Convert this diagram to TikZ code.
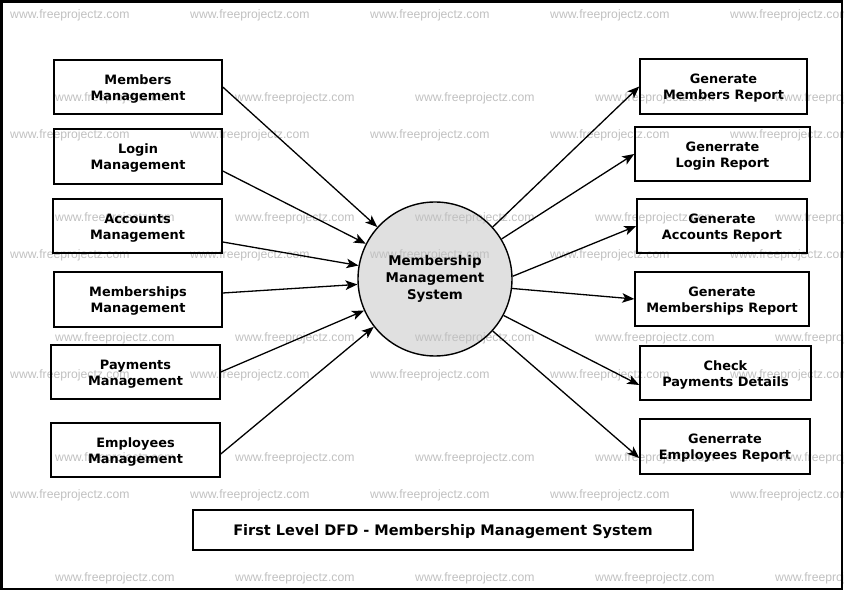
\documentclass[tikz,border=0pt]{standalone}
\usepackage{fontspec}
\setmainfont{DejaVu Sans}
\newfontfamily\wmfont{Liberation Sans}
\usetikzlibrary{arrows.meta}
\definecolor{wmgray}{RGB}{192,192,192}
\definecolor{sysgray}{RGB}{224,224,224}
\pgfdeclarelayer{bg}
\pgfdeclarelayer{wm}
\pgfsetlayers{bg,wm,main}
\newcommand\bxtext[1]{\raisebox{-2pt}[\height][\depth]{\begin{tabular}{@{}c@{}}#1\end{tabular}}}
\begin{document}
\begin{tikzpicture}[x=1pt,y=-1pt,
  box/.style={draw, line width=1.5pt, inner sep=0pt,
    font=\bfseries\fontsize{12.9}{16}\selectfont},
  sysnode/.style={draw, circle, line width=1.4pt, align=center, inner sep=0pt,
    minimum size=154pt, font=\bfseries\fontsize{13.4}{17}\selectfont},
  flow/.style={line width=1.3pt, -{Stealth[length=12pt,width=9.5pt,inset=3pt]}},
  wmtext/.style={anchor=west, inner sep=0pt, text=wmgray,
    font=\wmfont\fontsize{12.2}{12.2}\selectfont}]
\useasboundingbox (0,0) rectangle (846,593);

% process
\node[sysnode] (sys) at (435,279) {Membership\\Management\\System};
\begin{pgfonlayer}{bg}
  \fill[sysgray] (sys.center) circle[radius=77pt];
\end{pgfonlayer}

% watermarks
\begin{pgfonlayer}{wm}
\begin{scope}
  \clip (0,0) rectangle (843,590);
  \foreach \y [count=\j] in {15,135,255,375,495}{
    \foreach \x [count=\i] in {10,190,370,550,730}{
      \node[wmtext] (wa-\j-\i) at (\x,\y) {www.freeprojectz.com};
    }
  }
  \foreach \y [count=\j] in {98,218,338,458,578}{
    \foreach \x [count=\i] in {55,235,415,595,775}{
      \node[wmtext] (wb-\j-\i) at (\x,\y) {www.freeprojectz.com};
    }
  }
\end{scope}
\end{pgfonlayer}

% frame
\draw[line width=2.5pt] (1.3,1.3) rectangle (842,589);

% left entities
\node[box, minimum width=168pt, minimum height=54pt] (m1) at (138,87) {\bxtext{Members\\Management}};
\node[box, minimum width=168pt, minimum height=55pt] (m2) at (138,156.5) {\bxtext{Login\\Management}};
\node[box, minimum width=169pt, minimum height=54pt] (m3) at (137.5,226) {\bxtext{Accounts\\Management}};
\node[box, minimum width=168pt, minimum height=55pt] (m4) at (138,299.5) {\bxtext{Memberships\\Management}};
\node[box, minimum width=169pt, minimum height=54pt] (m5) at (135.5,372) {\bxtext{Payments\\Management}};
\node[box, minimum width=169pt, minimum height=54pt] (m6) at (135.5,450) {\bxtext{Employees\\Management}};

% right entities
\node[box, minimum width=167pt, minimum height=55pt] (r1) at (723.5,86.5) {\bxtext{Generate\\Members Report}};
\node[box, minimum width=175pt, minimum height=54pt] (r2) at (722.5,154) {\bxtext{Generrate\\Login Report}};
\node[box, minimum width=170pt, minimum height=54pt] (r3) at (722,226) {\bxtext{Generate\\Accounts Report}};
\node[box, minimum width=174pt, minimum height=54pt] (r4) at (722,299) {\bxtext{Generate\\Memberships Report}};
\node[box, minimum width=171pt, minimum height=54pt] (r5) at (725.5,373) {\bxtext{Check\\Payments Details}};
\node[box, minimum width=170pt, minimum height=55pt] (r6) at (725,446.5) {\bxtext{Generrate\\Employees Report}};

% title
\node[box, minimum width=500pt, minimum height=40pt, font=\bfseries\fontsize{14.5}{17}\selectfont] (title) at (443,530) {\bxtext{First Level DFD - Membership Management System}};

% flows in
\draw[flow] (m1.east) -- (sys.138);
\draw[flow] ([yshift=-14.5pt]m2.east) -- (sys.153);
\draw[flow] ([yshift=-16pt]m3.east) -- (sys.170);
\draw[flow] ([yshift=6.5pt]m4.east) -- (sys.184);
\draw[flow] (m5.east) -- (sys.204);
\draw[flow] ([yshift=-4pt]m6.east) -- (sys.218);

% flows out
\draw[flow] (sys.42) -- (r1.west);
\draw[flow] (sys.31) -- (r2.west);
\draw[flow] (sys.2) -- (r3.west);
\draw[flow] (sys.-7) -- (r4.west);
\draw[flow] (sys.-28) -- ([yshift=-12pt]r5.west);
\draw[flow] (sys.-42) -- ([yshift=-11.5pt]r6.west);
\end{tikzpicture}
\end{document}
